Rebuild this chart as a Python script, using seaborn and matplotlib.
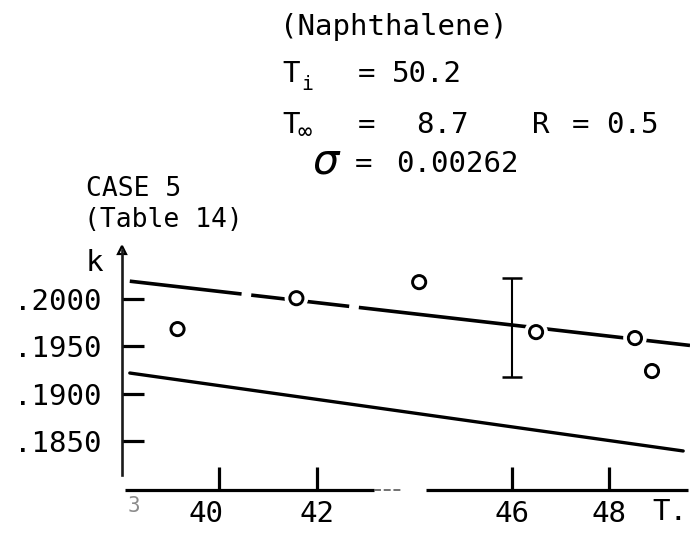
import matplotlib
matplotlib.use("Agg")
import matplotlib.pyplot as plt
import matplotlib.patheffects as pe
import matplotlib.transforms as mtrans
import seaborn as sns

# Measured thermal conductivity k against temperature T
temps = [39.14, 41.58, 44.10, 46.50, 48.53, 48.88]
k_vals = [0.19683, 0.20010, 0.20180, 0.19651, 0.19588, 0.19239]

# Fitted line (upper) and predicted curve (lower)
upper_T = [38.16, 49.66]
upper_k = [0.2019, 0.1951]
lower_T = [38.16, 49.52]
lower_k = [0.19218, 0.18393]

# Standard deviation and the +/- 2 sigma bar
sigma = 0.00262
err_T = 46.0
err_k = 0.1970

x_ticks = [40, 42, 46, 48]
x_labels = ["40", "42", "46", "48"]
y_ticks = [0.185, 0.190, 0.195, 0.200]
y_labels = [".1850", ".1900", ".1950", ".2000"]

sns.set_theme(style="white")
plt.rcParams["font.family"] = ["DejaVu Sans Mono", "DejaVu Sans"]
plt.rcParams["text.color"] = "black"
plt.rcParams["lines.scale_dashes"] = False

W, H = 698, 533
fig = plt.figure(figsize=(W / 100, H / 100), dpi=100)
ax = fig.add_axes([122 / W, 1 - 490 / H, 568 / W, 240 / H])
ax.set_xlim(38.0, 49.66)
ax.set_ylim(0.1798, 0.2052)
ax.set_facecolor("white")


def px(x, y):
    return x / W, 1 - y / H


# axes frame: left axis only, x axis drawn in pieces
for side in ["top", "right", "bottom"]:
    ax.spines[side].set_visible(False)
ax.spines["left"].set_bounds(0.1814, 0.2052)
ax.spines["left"].set_color("#1a1a1a")
ax.spines["left"].set_linewidth(1.9)
ax.plot([0.005, 0.443], [0, 0], transform=ax.transAxes, color="black",
        lw=2.3, clip_on=False, solid_capstyle="butt")
ax.plot([0.443, 0.493], [0, 0], transform=ax.transAxes, color="0.35",
        lw=1.2, ls=(0, (5, 2)), clip_on=False)
ax.plot([0.535, 0.996], [0, 0], transform=ax.transAxes, color="black",
        lw=2.3, clip_on=False, solid_capstyle="butt")
ax.plot([0], [1], transform=ax.transAxes, marker="^", ms=6, color="black",
        mfc="white", mew=1.6, clip_on=False)

# fit lines
sns.lineplot(x=upper_T, y=upper_k, ax=ax, color="black", lw=2.6,
             linestyle=(0, (81, 7, 71, 7, 500, 1)), solid_capstyle="butt")
sns.lineplot(x=lower_T, y=lower_k, ax=ax, color="black", lw=2.4)

# +/- 2 sigma bar
ax.errorbar(err_T, err_k, yerr=2 * sigma, fmt="none", ecolor="black",
            elinewidth=1.5, capsize=7.2, capthick=1.8, zorder=4)

# data points
sns.scatterplot(x=temps, y=k_vals, ax=ax, s=90, color="white",
                edgecolor="black", linewidth=2.1, zorder=5,
                path_effects=[pe.Stroke(linewidth=7.5, foreground="white"),
                              pe.Normal()])

ax.set_xticks(x_ticks, x_labels)
ax.set_yticks(y_ticks, y_labels)
ax.tick_params(axis="x", direction="in", length=16.5, width=2.3, pad=7,
               labelsize=21, bottom=True, colors="black")
ax.tick_params(axis="y", direction="in", length=16, width=2.3, pad=15,
               labelsize=21, left=True, colors="black")
ax.set_xlabel("")
ax.set_ylabel("")

# the typed "40" sits a little left of its tick
first = ax.get_xticklabels()[0]
first.set_transform(first.get_transform()
                    + mtrans.ScaledTranslation(-0.13, 0, fig.dpi_scale_trans))

# axis names
fig.text(*px(86, 263), "k", fontsize=21, va="center", ha="left")
fig.text(*px(652, 512), "T.", fontsize=21, va="center", ha="left")
fig.text(*px(128, 506), "3", fontsize=15, va="center", ha="left", color="0.55")

# header block (typewriter pitch of about 19 px)
fs = 21
fig.text(*px(280, 27), "(Naphthalene)", fontsize=fs, va="center")
fig.text(*px(282, 74), "T", fontsize=fs, va="center")
fig.text(*px(301, 84), "i", fontsize=14, va="center")
fig.text(*px(358, 74), "=", fontsize=fs, va="center")
fig.text(*px(392, 74), "50.2", fontsize=fs, va="center")
fig.text(*px(282, 125), "T", fontsize=fs, va="center")
fig.text(*px(298, 132), "\u221e", fontsize=17, va="center")
fig.text(*px(358, 125), "=", fontsize=fs, va="center")
fig.text(*px(416, 125), "8.7", fontsize=fs, va="center")
fig.text(*px(532, 125), "R", fontsize=fs, va="center")
fig.text(*px(572, 125), "=", fontsize=fs, va="center")
fig.text(*px(606, 125), "0.5", fontsize=fs, va="center")
fig.text(*px(312, 162), r"$\sigma$", fontsize=30, va="center")
fig.text(*px(355, 164), "=", fontsize=fs, va="center")
fig.text(*px(396, 164), "0.00262", fontsize=fs, va="center")
fig.text(*px(86, 189), "CASE 5", fontsize=19, va="center")
fig.text(*px(84, 220), "(Table 14)", fontsize=19, va="center")

fig.savefig("out.png", dpi=100, facecolor="white")
